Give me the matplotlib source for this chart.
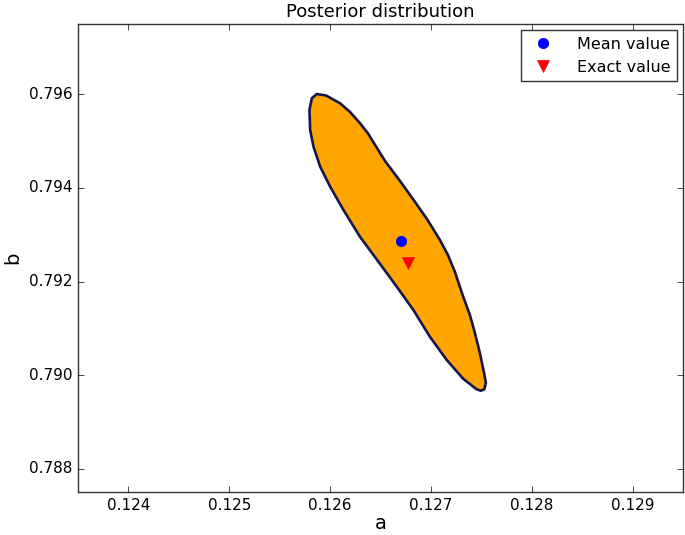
import matplotlib
matplotlib.use("Agg")
import matplotlib.pyplot as plt

region_a = [0.125868, 0.125960, 0.126099, 0.126198, 0.126297, 0.126376,
            0.126446, 0.126545, 0.126693, 0.126842, 0.126960, 0.127089,
            0.127168, 0.127238, 0.127317, 0.127386, 0.127436, 0.127485,
            0.127525, 0.127545, 0.127530, 0.127495, 0.127453, 0.127320,
            0.127155, 0.126990, 0.126825, 0.126660, 0.126495, 0.126297,
            0.126132, 0.126000, 0.125901, 0.125835, 0.125802, 0.125795,
            0.125819]
region_b = [0.796006, 0.795974, 0.795808, 0.795622, 0.795381, 0.795163,
            0.794918, 0.794576, 0.794149, 0.793701, 0.793338, 0.792890,
            0.792570, 0.792207, 0.791695, 0.791289, 0.790905, 0.790478,
            0.790072, 0.789838, 0.789699, 0.789667, 0.789699, 0.789923,
            0.790329, 0.790820, 0.791396, 0.791893, 0.792378, 0.792954,
            0.793530, 0.794028, 0.794455, 0.794882, 0.795238, 0.795665,
            0.795915]

mean_a, mean_b = 0.126703, 0.792869
exact_a, exact_b = 0.126772, 0.792399

plt.style.use('classic')
plt.rcParams['font.family'] = ['DejaVu Sans']

fig = plt.figure(figsize=(6.85, 5.35), dpi=100, facecolor='white')
ax = fig.add_axes([0.114, 0.080, 0.883, 0.875])

ax.fill(region_a, region_b, facecolor='#ffa500', edgecolor='#16164a',
        linewidth=1.9, joinstyle='round')

ax.plot([mean_a], [mean_b], 'o', color='blue', markeredgecolor='blue', markersize=7.5, label='Mean value')
ax.plot([exact_a], [exact_b], 'v', color='red', markeredgecolor='red', markersize=8, label='Exact value')

ax.set_xlim(0.1235, 0.1295)
ax.set_ylim(0.7875, 0.7975)
ax.set_xticks([0.124, 0.125, 0.126, 0.127, 0.128, 0.129])
ax.set_yticks([0.788, 0.790, 0.792, 0.794, 0.796])
ax.set_xticklabels(['0.124', '0.125', '0.126', '0.127', '0.128', '0.129'])
ax.set_yticklabels(['0.788', '0.790', '0.792', '0.794', '0.796'])
ax.tick_params(labelsize=11)
for s in ax.spines.values():
    s.set_color('#333333')

ax.set_xlabel('a', fontsize=14, labelpad=1)
ax.set_ylabel('b', fontsize=14)
ax.set_title('Posterior distribution', fontsize=13)

leg = ax.legend(loc='upper right', numpoints=1, fontsize=11.5, fancybox=False,
                handlelength=2.0, handletextpad=1.1, borderaxespad=0.4)
leg.get_frame().set_edgecolor('#333333')

fig.savefig('out.png', dpi=100, facecolor='white')
